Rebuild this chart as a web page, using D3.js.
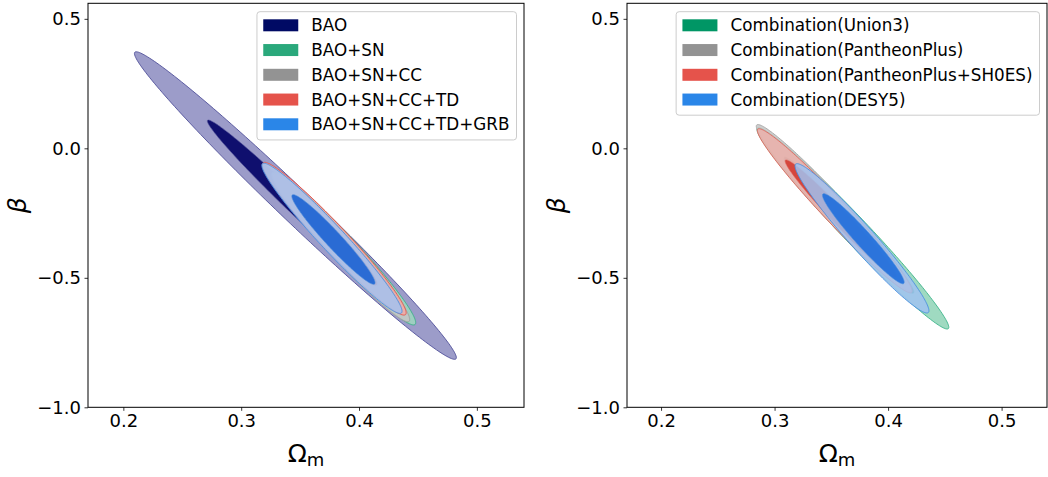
<!DOCTYPE html>
<html>
<head>
<meta charset="utf-8">
<script src="https://cdn.jsdelivr.net/npm/d3@7"></script>
<style>
    body { margin: 0; background: #fff; }
    svg { font-family: "DejaVu Sans", sans-serif; }
</style>
</head>
<body>
<svg width="1048" height="477"></svg>
<script>
// shared axis ticks
const xTicks = [0.2, 0.3, 0.4, 0.5];
const yTicks = [-1.0, -0.5, 0.0, 0.5];
const xDomain = [0.17, 0.54];
const yDomain = [-1.0, 0.56];

// ---- left panel: BAO based combinations ----
// each contour: centre (Om, beta), half range in Om, beta shift at the Om extreme, beta half thickness at the centre
const leftNames = ["BAO", "BAO+SN", "BAO+SN+CC", "BAO+SN+CC+TD", "BAO+SN+CC+TD+GRB"];
const leftOm95    = [0.346, 0.387, 0.385, 0.379, 0.377];
const leftBeta95  = [-0.221, -0.387, -0.3845, -0.349, -0.3475];
const leftHalf95  = [0.1366, 0.0611, 0.058, 0.061, 0.0595];
const leftTilt95  = [-0.5873, -0.286, -0.2765, -0.286, -0.2815];
const leftWidth95 = [0.088, 0.072, 0.069, 0.072, 0.070];
const leftOm68    = [0.3447, 0.381, 0.380, 0.379, 0.3783];
const leftBeta68  = [-0.2122, -0.36, -0.357, -0.354, -0.352];
const leftHalf68  = [0.0734, 0.037, 0.036, 0.036, 0.0353];
const leftTilt68  = [-0.3178, -0.172, -0.17, -0.168, -0.167];
const leftWidth68 = [0.048, 0.046, 0.045, 0.045, 0.045];

// ---- right panel: SN sample combinations ----
const rightNames = ["Combination(Union3)", "Combination(PantheonPlus)",
                    "Combination(PantheonPlus+SH0ES)", "Combination(DESY5)"];
const rightOm95    = [0.369, 0.3521, 0.353, 0.377];
const rightBeta95  = [-0.309, -0.229, -0.241, -0.3475];
const rightHalf95  = [0.0845, 0.0682, 0.0682, 0.059];
const rightTilt95  = [-0.382, -0.314, -0.310, -0.2795];
const rightWidth95 = [0.072, 0.066, 0.066, 0.071];
const rightOm68    = [0.3727, 0.3574, 0.3583, 0.3782];
const rightBeta68  = [-0.3275, -0.262, -0.271, -0.349];
const rightHalf68  = [0.050, 0.049, 0.049, 0.036];
const rightTilt68  = [-0.2275, -0.2235, -0.222, -0.168];
const rightWidth68 = [0.046, 0.043, 0.043, 0.045];

// colours
const leftLegend = ["#000a64", "#2aa87b", "#939393", "#e5534b", "#2a86e8"];
const leftOuter  = ["#8b8bc0", "#9fd8c0", "#c6c6c6", "#f0aaa4", "#a3c2f0"];
const leftInner  = ["#000064", "#2aa87b", "#939393", "#e5534b", "#1c63d4"];
const leftEdge   = ["#50509a", "#3bb088", "#a0a0a0", "#e5534b", "#4a90e0"];
const rightLegend = ["#009665", "#939393", "#e5534b", "#2a86e8"];
const rightOuter  = ["#8ed3b6", "#c6c6c6", "#ecb0aa", "#a0c2f0"];
const rightInner  = ["#1a9e70", "#939393", "#d43b30", "#1e6edc"];
const rightEdge   = ["#3cb48a", "#a6a6a6", "#e0645a", "#4a90e0"];

const svg = d3.select("svg");

//build the closed contour points in data units
function contour(cx, cy, half, tilt, width) {
    const pts = [];
    for (let i = 0; i < 200; i++) {
        const t = 2 * Math.PI * i / 200;
        pts.push([cx + half * Math.cos(t), cy + tilt * Math.cos(t) + width * Math.sin(t)]);
    }
    return pts;
}

function drawPanel(p) {
    const xs = d3.scaleLinear().domain(xDomain).range([p.left, p.right]);
    const ys = d3.scaleLinear().domain(yDomain).range([p.bottom, p.top]);
    const line = d3.line().x(d => xs(d[0])).y(d => ys(d[1])).curve(d3.curveLinearClosed);

    svg.append("clipPath").attr("id", p.id + "clip")
       .append("rect").attr("x", p.left).attr("y", p.top)
       .attr("width", p.right - p.left).attr("height", p.bottom - p.top);

    const g = svg.append("g").attr("clip-path", "url(#" + p.id + "clip)");
    p.names.forEach(function(name, i) {
        g.append("path")
         .attr("d", line(contour(p.om95[i], p.beta95[i], p.half95[i], p.tilt95[i], p.width95[i])))
         .attr("fill", p.outer[i]).attr("fill-opacity", 0.85)
         .attr("stroke", p.edge[i]).attr("stroke-width", 0.9);
        g.append("path")
         .attr("d", line(contour(p.om68[i], p.beta68[i], p.half68[i], p.tilt68[i], p.width68[i])))
         .attr("fill", p.inner[i]).attr("fill-opacity", 0.9)
         .attr("stroke", p.edge[i]).attr("stroke-width", 0.6);
    });

    //axes
    svg.append("g").attr("transform", "translate(0," + p.bottom + ")")
       .call(d3.axisBottom(xs).tickValues(xTicks).tickFormat(d3.format(".1f"))
               .tickSize(3.5).tickPadding(3.5).tickSizeOuter(0))
       .style("font-size", "18px").style("font-family", "DejaVu Sans");
    svg.append("g").attr("transform", "translate(" + p.left + ",0)")
       .call(d3.axisLeft(ys).tickValues(yTicks).tickFormat(d3.format(".1f"))
               .tickSize(3.5).tickPadding(3.5).tickSizeOuter(0))
       .style("font-size", "18px").style("font-family", "DejaVu Sans");
    svg.selectAll(".domain").remove();
    svg.selectAll(".tick text").attr("fill", "#000");
    svg.selectAll(".tick line").attr("stroke", "#000").attr("stroke-width", 0.8);

    svg.append("rect").attr("x", p.left).attr("y", p.top)
       .attr("width", p.right - p.left).attr("height", p.bottom - p.top)
       .attr("fill", "none").attr("stroke", "#000").attr("stroke-width", 1);

    //axis labels
    const xl = svg.append("text").attr("x", (p.left + p.right) / 2).attr("y", 462)
                  .attr("text-anchor", "middle").style("font-size", "25px");
    xl.append("tspan").text("Ω");
    xl.append("tspan").attr("dy", 4).style("font-size", "18px").text("m");

    svg.append("text").attr("transform", "translate(" + (p.left - 62) + "," + ((p.top + p.bottom) / 2) + ") rotate(-90)")
       .attr("text-anchor", "middle").style("font-size", "25px").style("font-style", "italic")
       .text("β");

    //legend
    const lg = svg.append("g");
    const box = lg.append("rect").attr("rx", 3).attr("ry", 3)
                  .attr("fill", "#fff").attr("fill-opacity", 0.8)
                  .attr("stroke", "#cccccc").attr("stroke-width", 1);
    let maxLen = 0;
    p.names.forEach(function(name, i) {
        const t = lg.append("text").attr("y", 11.7 + 13.6 + i * 24.75).attr("dy", "0.36em")
                    .style("font-size", "16.8px").text(name);
        maxLen = Math.max(maxLen, t.node().getComputedTextLength());
    });
    const boxW = 54.4 + maxLen + 7;
    const boxX = p.right - 7.5 - boxW;
    box.attr("x", boxX).attr("y", 11.7).attr("width", boxW).attr("height", p.names.length * 24.75 + 4.5);
    lg.selectAll("text").attr("x", boxX + 54.4);
    p.names.forEach(function(name, i) {
        lg.append("rect").attr("x", boxX + 6.3).attr("y", 11.7 + 13.6 + i * 24.75 - 6)
          .attr("width", 35).attr("height", 12).attr("fill", p.legend[i]);
    });
}

drawPanel({id: "left", left: 88, right: 524, top: 3.3, bottom: 407.3,
           names: leftNames, om95: leftOm95, beta95: leftBeta95, half95: leftHalf95, tilt95: leftTilt95, width95: leftWidth95,
           om68: leftOm68, beta68: leftBeta68, half68: leftHalf68, tilt68: leftTilt68, width68: leftWidth68,
           legend: leftLegend, outer: leftOuter, inner: leftInner, edge: leftEdge});

drawPanel({id: "right", left: 627, right: 1047, top: 3.3, bottom: 407.3,
           names: rightNames, om95: rightOm95, beta95: rightBeta95, half95: rightHalf95, tilt95: rightTilt95, width95: rightWidth95,
           om68: rightOm68, beta68: rightBeta68, half68: rightHalf68, tilt68: rightTilt68, width68: rightWidth68,
           legend: rightLegend, outer: rightOuter, inner: rightInner, edge: rightEdge});
</script>
</body>
</html>
